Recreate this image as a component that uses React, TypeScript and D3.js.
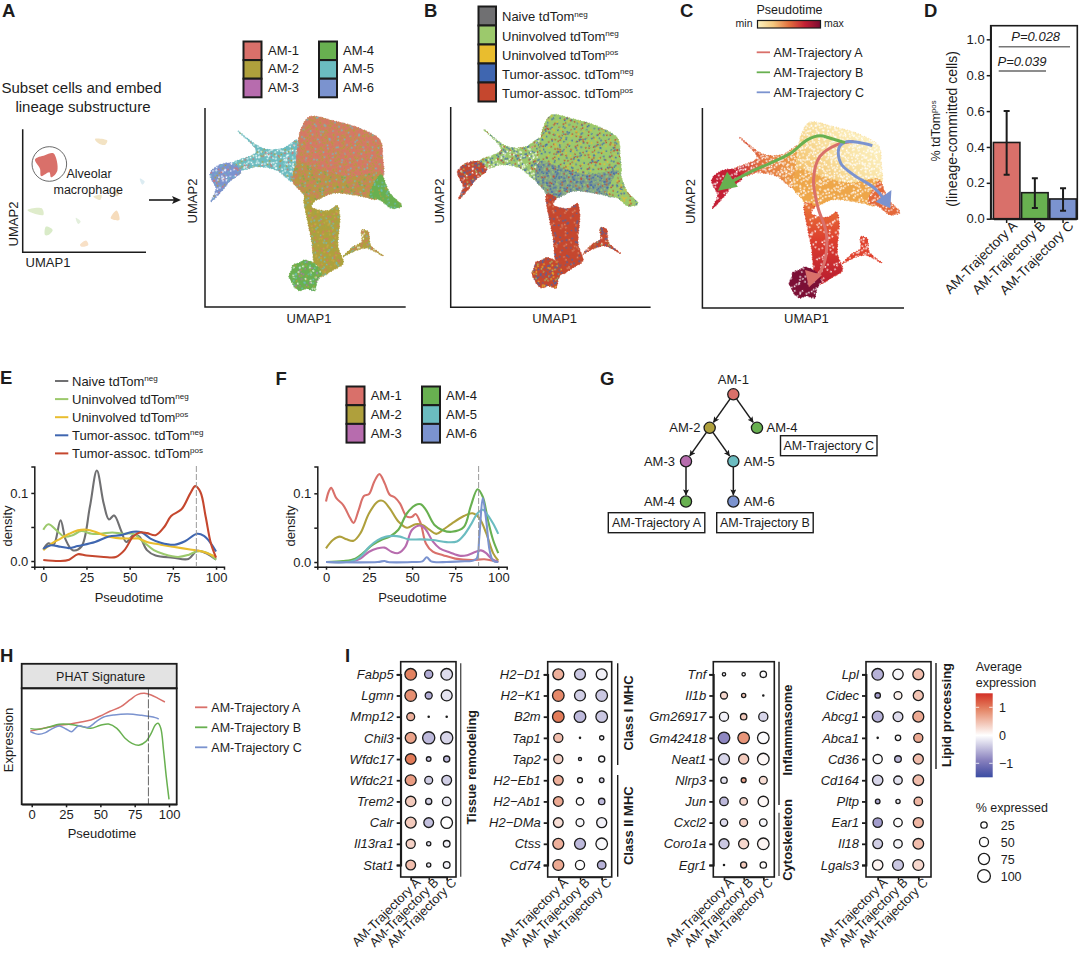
import React, { useEffect, useRef } from 'react';
import * as d3 from 'd3';

type Pt = [number, number];

const FONT = '"Liberation Sans", Arial, sans-serif';
const INK = '#1c1c1c';

// categories
const amNames = ['AM-1', 'AM-2', 'AM-3', 'AM-4', 'AM-5', 'AM-6'];
const amColors = ['#d9706a', '#afa03c', '#b76cae', '#68b050', '#6bbcc0', '#7b93cf'];
const popNames = ['Naive tdTom', 'Uninvolved tdTom', 'Uninvolved tdTom', 'Tumor-assoc. tdTom', 'Tumor-assoc. tdTom'];
const popSups = ['neg', 'neg', 'pos', 'neg', 'pos'];
const popColors = ['#707072', '#9cc96c', '#e9bd2e', '#3f66b0', '#c5472e'];
const trajNames = ['AM-Trajectory A', 'AM-Trajectory B', 'AM-Trajectory C'];
const trajColors = ['#d9706a', '#68b050', '#7b93cf'];

// panel D
const tdTomPct = [0.425, 0.145, 0.11];
const tdTomLow = [0.245, 0.06, 0.045];
const tdTomHigh = [0.6, 0.225, 0.17];

// panel E, [pseudotime, density]
const naiveDensity: Pt[] = [[0, .017], [3, .026], [6, .024], [10, .06], [13, .031], [17, .016], [22, .021], [27, .08], [31, .133], [35, .084], [38, .061], [41, .067], [45, .045], [48, .028], [52, .038], [55.6, .036], [60, .016], [65, .008], [75, .005], [84, .003], [89, .015], [94.6, .011], [100, .002]];
const uninvNegDensity: Pt[] = [[0, .046], [3, .054], [7.7, .045], [12, .036], [17, .038], [22, .044], [28, .04], [33, .04], [40, .042], [46, .04], [52, .04], [58, .028], [64, .016], [70, .01], [78, .006], [84, .009], [89, .014], [95, .012], [100, .002]];
const uninvPosDensity: Pt[] = [[0, .016], [5, .026], [10, .033], [15, .04], [20, .045], [25, .046], [30, .043], [36, .037], [42, .034], [50, .033], [55, .033], [60, .028], [68, .024], [75, .021], [85, .017], [92, .014], [100, .006]];
const tumorNegDensity: Pt[] = [[0, .018], [4, .023], [10, .021], [15, .019], [20, .022], [30, .028], [38, .036], [45, .038], [52, .043], [57, .042], [62, .033], [68, .027], [76, .024], [82, .029], [89, .04], [93, .037], [97, .026], [100, .014]];
const tumorPosDensity: Pt[] = [[0, .0015], [10, 0], [15, .002], [20, .01], [25, .008], [35, .006], [42, .006], [47, .016], [52, .036], [56, .042], [60, .041], [65, .038], [70, .05], [74, .066], [80, .076], [85, .099], [88, .11], [91, .101], [94, .065], [97, .026], [100, .005]];
const popDensities = [naiveDensity, uninvNegDensity, uninvPosDensity, tumorNegDensity, tumorPosDensity];

// panel F, [pseudotime, density]
const am1Density: Pt[] = [[0, .088], [1.5, .102], [3, .108], [6, .093], [10, .083], [14, .064], [16, .057], [19, .076], [22, .096], [25, .099], [28, .117], [31, .128], [34, .115], [37, .098], [40, .094], [43, .085], [47, .066], [50, .066], [52, .07], [55, .056], [58, .027], [62, .015], [68, .01], [75, .005], [85, .003], [92, .004], [100, 0]];
const am2Density: Pt[] = [[0, .02], [4, .032], [8, .037], [12, .033], [16, .031], [20, .042], [25, .071], [30, .088], [33, .089], [37, .078], [42, .059], [47, .05], [52, .055], [56, .054], [60, .047], [64, .041], [68, .047], [73, .056], [80, .067], [85, .071], [89, .064], [93, .042], [97, .013], [100, .002]];
const am3Density: Pt[] = [[0, 0], [15, .001], [20, .005], [25, .015], [30, .02], [34, .021], [38, .015], [42, .013], [46, .022], [50, .047], [55, .053], [58, .047], [62, .03], [66, .02], [72, .014], [78, .009], [82, .01], [87, .015], [90, .017], [93, .013], [96, .005], [100, 0]];
const am4Density: Pt[] = [[0, 0], [10, .0015], [17, .005], [22, .014], [27, .025], [32, .032], [37, .037], [42, .047], [47, .071], [52, .083], [55, .084], [58, .076], [63, .054], [68, .046], [73, .044], [80, .051], [84, .081], [88, .106], [91, .095], [94, .061], [97, .032], [100, .013]];
const am5Density: Pt[] = [[0, 0], [15, .001], [20, .008], [25, .022], [30, .032], [35, .037], [39, .038], [43, .037], [48, .033], [55, .033], [62, .032], [70, .029], [76, .03], [80, .039], [84, .054], [88, .071], [91, .076], [94, .068], [97, .056], [100, .041]];
const am6Density: Pt[] = [[0, 0], [30, 0], [34, .0015], [36, 0], [50, 0], [56, .001], [58.5, .007], [61, .001], [70, 0], [78, .001], [85, .002], [87.5, .005], [89, .037], [91, .093], [93, .061], [95, .017], [97, .002], [100, 0]];
const amDensities = [am1Density, am2Density, am3Density, am4Density, am5Density, am6Density];

// panel H, [pseudotime, expression in arbitrary units]
const phatA: Pt[] = [[-1, 22], [5, 22.5], [12, 23.1], [20, 23.7], [27, 24], [35, 24.6], [43, 25.3], [50, 26.5], [57, 27.9], [65, 29.3], [72, 31.5], [77, 32.9], [82, 33.3], [87, 32.8], [92, 31.8], [97, 30.7]];
const phatB: Pt[] = [[-1, 22.7], [5, 22.5], [12, 23.1], [20, 24], [27, 24], [35, 23.5], [43, 22.8], [50, 23.7], [56, 24.1], [62, 22.8], [68, 19.8], [73, 18.3], [78, 17.7], [83, 18.8], [87, 21.3], [90, 23.8], [92, 24.3], [94, 22.8], [96, 16.3], [98, 8.3], [100, 1.5]];
const phatC: Pt[] = [[-1, 21.8], [5, 21], [10, 21.5], [15, 22.7], [20, 23.5], [25, 22.6], [29, 21.8], [34, 23.5], [41, 23.1], [47, 24.8], [52, 26.1], [60, 26.8], [70, 27.1], [80, 26.7], [90, 26], [92.5, 25.6]];
const phatSeries = [phatA, phatB, phatC];

// panel I, one triple (trajectory A, B, C) per gene
const tissueGenes = ['Fabp5', 'Lgmn', 'Mmp12', 'Chil3', 'Wfdc17', 'Wfdc21', 'Trem2', 'Calr', 'Il13ra1', 'Stat1'];
const tissuePct = [[82, 41, 82], [82, 30, 73], [38, 1, 1], [73, 91, 91], [69, 13, 23], [73, 38, 58], [66, 23, 44], [73, 58, 82], [51, 11, 27], [58, 11, 27]];
const tissueAvg = [[.95, -.6, -.25], [.85, -.6, -.2], [.6, 0, 0], [.7, -.5, -.3], [1, -.4, -.5], [.75, -.35, -.35], [.4, -.3, -.15], [.4, -.45, 0], [.35, -.2, -.1], [.5, -.15, -.1]];
const mhcGenes = ['H2\u2212D1', 'H2\u2212K1', 'B2m', 'Tap1', 'Tap2', 'H2\u2212Eb1', 'H2\u2212Ab1', 'H2\u2212DMa', 'Ctss', 'Cd74'];
const mhcPct = [[73, 73, 73], [82, 73, 82], [82, 82, 82], [51, 1, 11], [51, 6, 23], [58, 15, 13], [58, 33, 25], [58, 38, 62], [73, 73, 82], [73, 51, 44]];
const mhcAvg = [[.6, -.4, -.1], [.9, -.35, -.4], [1, -.5, -.4], [.5, 0, -.1], [.35, -.3, -.05], [.6, 0, -.3], [.65, -.03, -.5], [.25, -.05, -.1], [.6, -.5, -.05], [.65, 0, -.55]];
const inflamGenes = ['Tnf', 'Il1b', 'Gm26917', 'Gm42418', 'Neat1', 'Nlrp3', 'Jun', 'Cxcl2', 'Coro1a', 'Egr1'];
const inflamPct = [[7, 7, 25], [30, 11, 1], [51, 25, 51], [82, 82, 82], [73, 62, 82], [25, 15, 38], [44, 35, 66], [33, 38, 35], [62, 62, 82], [1, 23, 25]];
const inflamAvg = [[-.1, -.05, -.02], [.3, .45, 0], [-.1, .4, -.3], [-.85, .8, -.03], [-.3, .4, .05], [-.2, .7, .25], [-.5, .3, .05], [-.25, .35, -.05], [-.4, .3, .08], [0, .4, .02]];
const lipidGenes = ['Lpl', 'Cidec', 'Abcg1', 'Abca1', 'Cd36', 'Cd164', 'Pltp', 'Ear1', 'Il18', 'Lgals3'];
const lipidPct = [[82, 66, 73], [18, 38, 62], [73, 58, 73], [1, 18, 51], [51, 27, 62], [66, 44, 69], [13, 11, 44], [54, 44, 62], [58, 44, 69], [66, 73, 73]];
const lipidAvg = [[-.55, -.05, .5], [-.7, .1, .45], [-.55, -.25, .65], [0, -.02, .65], [-.02, -.5, .5], [-.3, -.2, .5], [-.6, -.15, .55], [-.7, 0, .55], [-.35, -.08, .5], [.08, -.4, .3]];
const pctLegend = [25, 50, 75, 100];

// panel G tree, col / level are grid units
const treeNodes = [
  { key: 'a1', name: 'AM-1', color: 0, col: 2, level: 0 },
  { key: 'a2', name: 'AM-2', color: 1, col: 1, level: 1 },
  { key: 'a4', name: 'AM-4', color: 3, col: 3, level: 1 },
  { key: 'a3', name: 'AM-3', color: 2, col: 0, level: 2 },
  { key: 'a5', name: 'AM-5', color: 4, col: 2, level: 2 },
  { key: 'b4', name: 'AM-4', color: 3, col: 0, level: 3.2 },
  { key: 'a6', name: 'AM-6', color: 5, col: 2, level: 3.2 },
];
const treeEdges = [['a1', 'a2'], ['a1', 'a4'], ['a2', 'a3'], ['a2', 'a5'], ['a3', 'b4'], ['a5', 'a6']];

// UMAP outlines, arbitrary UMAP units
const umapUpper: Pt[] = [[305, 515], [330, 550], [400, 538], [480, 515], [540, 480], [548, 430], [545, 360], [450, 340], [360, 360], [295, 400], [295, 470]];
const umapMid: Pt[] = [[295, 410], [360, 390], [450, 370], [543, 380], [550, 345], [530, 303], [490, 310], [400, 320], [350, 300], [325, 300], [305, 325], [280, 355]];
const umapTip: Pt[] = [[525, 355], [543, 375], [570, 320], [605, 282], [575, 275], [540, 300], [510, 310]];
const umapLower: Pt[] = [[315, 310], [345, 300], [335, 280], [385, 268], [412, 283], [420, 250], [415, 160], [430, 110], [400, 90], [360, 70], [345, 100], [335, 180], [325, 230]];
const umapBlob: Pt[] = [[280, 105], [300, 112], [315, 120], [350, 105], [365, 80], [352, 55], [345, 28], [320, 34], [300, 28], [285, 38], [278, 50], [268, 72], [275, 88]];
const umapBridge: Pt[] = [[115, 507], [190, 455], [250, 455], [295, 480], [305, 430], [290, 390], [280, 355], [230, 390], [170, 400], [130, 390], [100, 410], [170, 445]];
const umapLeftBlob: Pt[] = [[32, 380], [60, 405], [100, 410], [125, 385], [90, 355], [70, 330], [35, 295], [50, 335], [40, 355]];
const umapBranch: Pt[] = [[430, 130], [460, 160], [485, 175], [485, 210], [505, 205], [512, 165], [550, 132], [500, 155], [460, 145]];

// panel C pseudotime ramp and principal curves, same UMAP units
const pseudoStops = ['#fdf2c0', '#f4c77e', '#e2703e', '#c32034', '#7a0b32'];
const curveA: Pt[] = [[464, 493], [412, 483], [361, 448], [342, 379], [355, 299], [381, 220], [377, 141], [355, 91]];
const curveB: Pt[] = [[438, 490], [393, 503], [361, 510], [323, 498], [272, 458], [220, 433], [143, 399], [66, 359]];
const curveC: Pt[] = [[521, 481], [476, 491], [438, 491], [419, 473], [425, 428], [464, 394], [528, 354], [566, 310]];
const headA: Pt[] = [[328, 60], [316, 111], [368, 96]];
const headB: Pt[] = [[51, 347], [79, 403], [112, 359]];
const headC: Pt[] = [[576, 295], [531, 314], [579, 349]];

// inset of panel A: all cell clusters, 0-100 units
const insetTarget: Pt[] = [[10, 75.6], [18, 79], [24.9, 80.5], [28.1, 66.4], [23, 61], [21.6, 65], [15, 62], [14, 68]];
const insetClusters: { color: string; pts: Pt[] }[] = [
  { color: '#f3e3c4', pts: [[58.6, 92.1], [68.6, 90.8], [66.8, 87.3], [61.4, 88.6]] },
  { color: '#dfeccb', pts: [[3.8, 34.4], [15.4, 35.8], [16.8, 30.4], [8.6, 31.7]] },
  { color: '#d9ebc8', pts: [[18.9, 20.9], [24.3, 18.2], [20.8, 14.1], [18.1, 14.1]] },
  { color: '#f6dcbc', pts: [[76.2, 33.9], [78.4, 26.3], [71.4, 27.6]] },
  { color: '#f8e0c6', pts: [[46.5, 6], [51.4, 9.5], [53.2, 6], [47.8, 4.6]] },
  { color: '#efe7c6', pts: [[57.3, 45.3], [64, 46.6], [62.7, 42.5]] },
  { color: '#f5e0c2', pts: [[73, 49.3], [78.4, 50.7], [76.8, 45.3]] },
  { color: '#dcecf2', pts: [[95, 60], [99, 57.5], [97, 55]] },
  { color: '#e3efdc', pts: [[43, 28], [47, 25], [45, 23]] },
];

// speckle tile standing in for the overplotted single cells
const speckleX = [1.2, 5.8, 9.1, 14.3, 16.8, 3.4, 7.7, 12.2, 15.6, 0.6, 4.9, 10.4, 13.1, 17.3, 2.5, 6.9, 11.2, 15.0, 8.3, 1.7, 5.1, 9.9, 13.9, 16.4, 3.3, 7.2, 11.8, 0.9, 6.2, 14.7, 17.6, 4.2, 10.1, 12.8, 2.1, 8.6];
const speckleY = [0.8, 1.9, 0.4, 1.3, 3.1, 3.6, 4.2, 3.2, 5.4, 6.1, 6.7, 5.9, 7.3, 7.9, 8.8, 8.1, 9.2, 10.1, 11.3, 11.0, 10.9, 12.7, 12.0, 13.2, 13.9, 14.4, 13.6, 15.4, 16.1, 15.7, 16.9, 17.2, 16.8, 15.9, 17.7, 6.0];

const [c1, c2, c3, c4, c5, c6] = amColors;
const [, pGreen, pYellow, pBlue, pRed] = popColors;

type Layer = { pts: Pt[]; base: string; edge?: string; dots: string[] };

const layersA: Layer[] = [
  { pts: umapBridge, base: c5, dots: [c5, '#fff', c1, '#fff', c2, '#fff', c5] },
  { pts: umapLeftBlob, base: c6, dots: [c6, c1, '#fff', c6, c2, '#fff', c5] },
  { pts: umapUpper, base: '#d27d62', dots: [c2, c1, c2, c5, c2, c1, c1] },
  { pts: umapMid, base: '#bb9448', dots: [c1, c2, c1, c5, c1, c2, c4] },
  { pts: umapTip, base: c4, dots: [c4, c2, c4, c5, c4] },
  { pts: umapLower, base: c2, dots: [c2, '#c7a843', c5, c2, c1, '#9aa846'] },
  { pts: umapBlob, base: c4, dots: [c4, c2, c4, c5, c3, c4, '#fff'] },
  { pts: umapBranch, base: c2, dots: [c1, c2, c5, c1, '#fff'] },
];
const layersB: Layer[] = [
  { pts: umapBridge, base: pGreen, dots: [pBlue, '#fff', pGreen, pRed, pBlue, '#fff'] },
  { pts: umapLeftBlob, base: pRed, dots: [pBlue, pRed, '#fff', pGreen, pBlue, pRed] },
  { pts: umapUpper, base: pGreen, dots: [pRed, pBlue, pGreen, pGreen, pRed, pYellow, pGreen, pBlue, pGreen] },
  { pts: umapMid, base: '#7f9e8b', dots: [pGreen, pBlue, pGreen, pRed, pBlue, pGreen, pBlue] },
  { pts: umapTip, base: pGreen, dots: [pYellow, pGreen, pRed, pGreen, pBlue] },
  { pts: umapLower, base: pRed, dots: [pRed, pRed, '#d88a6a', pRed, pBlue, pRed] },
  { pts: umapBlob, base: pRed, dots: [pBlue, pRed, pGreen, pRed, pBlue, pYellow] },
  { pts: umapBranch, base: pRed, dots: [pRed, pGreen, pBlue, pRed, '#fff'] },
];
const layersC: Layer[] = [
  { pts: umapBridge, base: 'url(#ptBridge)', edge: '#e2703e', dots: ['#fff', 'none', '#fff', '#fff'] },
  { pts: umapLeftBlob, base: '#c41f35', dots: ['#fff', 'none', 'none', 'none'] },
  { pts: umapUpper, base: 'url(#ptUpper)', edge: '#f9e0a4', dots: ['#fff', 'none', '#fff'] },
  { pts: umapMid, base: '#eea649', dots: ['#fff', 'none', 'none', '#fff'] },
  { pts: umapTip, base: '#e4683a', dots: ['#fff', 'none'] },
  { pts: umapLower, base: 'url(#ptLower)', edge: '#dd3f2e', dots: ['#fff', 'none', 'none', 'none'] },
  { pts: umapBlob, base: '#7c0f35', dots: ['#fff', 'none', 'none', 'none'] },
  { pts: umapBranch, base: '#e0432f', dots: ['#fff', 'none'] },
];

const umapDomainX: Pt = [30, 607];
const umapDomainY: Pt = [25, 552];
const smooth = d3.curveCatmullRom.alpha(0.5);

const Label = ({ x, y, size = 13, anchor = 'start', rotate, weight, italic, sup, children }: any) => (
  <text
    transform={rotate ? `translate(${x},${y}) rotate(${rotate})` : undefined}
    x={rotate ? undefined : x}
    y={rotate ? undefined : y}
    fontSize={size}
    textAnchor={anchor}
    fontWeight={weight}
    fontStyle={italic ? 'italic' : undefined}
    fill={INK}
  >
    {children}
    {sup && <tspan dy={-size * 0.36} fontSize={size * 0.62}>{sup}</tspan>}
  </text>
);

const Letter = ({ x, y, children }: any) => <Label x={x} y={y} size={18.5} weight="bold">{children}</Label>;

// d3 axis rendered into a <g>
const Axis = ({ axis, transform, size = 13, italic, rotated, width = 1.5 }: any) => {
  const ref = useRef<SVGGElement>(null);
  useEffect(() => {
    const g = d3.select(ref.current as SVGGElement);
    g.call(axis);
    g.attr('font-family', FONT);
    g.select('.domain').attr('stroke', INK).attr('stroke-width', width);
    g.selectAll('.tick line').attr('stroke', INK).attr('stroke-width', width);
    const t = g.selectAll('.tick text').attr('fill', INK).attr('font-size', size);
    if (italic) t.attr('font-style', 'italic');
    if (rotated) t.attr('transform', 'rotate(-45)').attr('text-anchor', 'end').attr('dx', '0.2em').attr('dy', '0.55em');
  }, []);
  return <g ref={ref} transform={transform} />;
};

const SpecklePattern = ({ id, dots, shift, r, transform }: any) => (
  <pattern id={id} width={18} height={18} patternUnits="userSpaceOnUse" patternTransform={transform}>
    {speckleX.map((sx, k) => {
      const c = dots[(k + shift) % dots.length];
      return c === 'none' ? null : <circle key={k} cx={sx} cy={speckleY[k]} r={r} fill={c} />;
    })}
  </pattern>
);

const UmapPanel = ({ id, layers, rangeX, rangeY, axisX, axisY, children }: any) => {
  const x = d3.scaleLinear().domain(umapDomainX).range(rangeX);
  const y = d3.scaleLinear().domain(umapDomainY).range(rangeY);
  const outline = d3.line<Pt>().x(d => x(d[0])).y(d => y(d[1])).curve(d3.curveCatmullRomClosed.alpha(0.5));
  const speck = layers as Layer[];
  return (
    <g>
      <defs>
        {speck.map((l, i) => (
          <g key={i}>
            <SpecklePattern id={`${id}-${i}`} dots={l.dots} shift={0} r={0.85} transform="rotate(17)" />
            <SpecklePattern id={`${id}-${i}b`} dots={l.dots} shift={3} r={0.62} transform="rotate(-31) scale(1.37)" />
          </g>
        ))}
      </defs>
      {speck.map((l, i) => {
        const d = outline(l.pts)!;
        return (
          <g key={i}>
            <path d={d} fill={l.base} stroke={l.edge || l.base} strokeWidth={1.4} strokeDasharray="0 1.7 0 3.1 0 2.3 0 4.3" strokeLinecap="round" />
            <path d={d} fill={`url(#${id}-${i})`} />
            <path d={d} fill={`url(#${id}-${i}b)`} />
          </g>
        );
      })}
      <path d={`M${axisX[0]},${axisY[0]}V${axisY[1]}H${axisX[1]}`} fill="none" stroke={INK} strokeWidth={1.5} />
      {children && children(x, y)}
    </g>
  );
};

const SwatchColumn = ({ x, y, w, h, colors }: any) => (
  <g>
    {colors.map((c: string, i: number) => (
      <rect key={i} x={x} y={y + i * h} width={w} height={h} fill={c} stroke={INK} strokeWidth={2} />
    ))}
  </g>
);

const DensityPanel = ({ series, colors, rangeX, domainX, domainY, xLabelAt, dashT }: any) => {
  const x = d3.scaleLinear().domain(domainX).range(rangeX);
  const y = d3.scaleLinear().domain(domainY).range([566.7, 466.4]);
  const line = d3.line<Pt>().x(d => x(d[0])).y(d => y(d[1])).curve(smooth);
  return (
    <g>
      {series.map((s: Pt[], i: number) => (
        <path key={i} d={line(s)!} fill="none" stroke={colors[i]} strokeWidth={2.1} />
      ))}
      <line x1={x(dashT)} x2={x(dashT)} y1={466} y2={566} stroke="#9a9a9a" strokeWidth={1} strokeDasharray="6 2" />
      <Axis
        transform="translate(0,566.7)"
        axis={d3.axisBottom(x).tickValues([0, 25, 50, 75, 100]).tickSizeOuter(0).tickSize(3).tickPadding(3)}
      />
      <Axis
        transform={`translate(${rangeX[0]},0)`}
        axis={d3.axisLeft(y).tickValues([0, 0.05, 0.1]).tickSizeOuter(0).tickSize(3).tickPadding(3)
          .tickFormat((d: any) => (d === 0.05 ? '' : d3.format('.1f')(d)))}
      />
      <Label x={rangeX[0] - 22.5} y={526} size={13} anchor="middle" rotate={-90}>density</Label>
      <Label x={xLabelAt} y={602} size={13} anchor="middle">Pseudotime</Label>
    </g>
  );
};

const avgColor = d3.scaleLinear<string>()
  .domain([-1.5, -1, 0, 1, 1.5])
  .range(['#3b4da3', '#7a72b6', '#ffffff', '#e27b58', '#d32f27']);
const pctRadius = d3.scaleSqrt().domain([0, 100]).range([0, 6.4]);

const DotPanel = ({ genes, pct, avg, left, right, col0, col2 }: any) => {
  const x = d3.scalePoint<string>().domain(trajNames).range([col0, col2]);
  const y = d3.scalePoint<string>().domain(genes).range([674.3, 865]);
  return (
    <g>
      <rect x={left} y={661.7} width={right - left} height={215.3} fill="none" stroke={INK} strokeWidth={1.6} />
      {genes.map((g: string, i: number) => trajNames.map((t, j) => (
        <circle key={t} cx={x(t)} cy={y(g)} r={pctRadius(pct[i][j])} fill={avgColor(avg[i][j])} stroke={INK} strokeWidth={1.3} />
      )))}
      <Axis transform={`translate(${left},0)`} italic size={13} width={1.8}
        axis={d3.axisLeft(y).tickSize(4).tickPadding(3)} />
      <Axis transform="translate(0,877)" rotated size={12.7} width={1.4}
        axis={d3.axisBottom(x).tickSize(3.5).tickPadding(1)} />
    </g>
  );
};

const SideBar = ({ x, y0, y1, grey }: any) => (
  <line x1={x} x2={x} y1={y0} y2={y1} stroke={grey ? '#555' : INK} strokeWidth={1.4} />
);

const App = () => {
  // panel D scales
  const barX = d3.scaleBand<string>().domain(trajNames).range([993.4, 1076.3]).paddingInner(0.06);
  const barY = d3.scaleLinear().domain([0, 1.076]).range([218.7, 25.7]);

  // panel G scales
  const treeX = d3.scaleLinear().domain([0, 3]).range([686, 757]);
  const treeY = d3.scaleLinear().domain([0, 1]).range([394.3, 427.8]);
  const nodeR = 5.6;

  // panel H scales
  const phatX = d3.scaleLinear().domain([-7.3, 105.6]).range([21.7, 176.7]);
  const phatY = d3.scaleLinear().domain([0, 34.8]).range([804.3, 688.3]);
  const phatLine = d3.line<Pt>().x(d => phatX(d[0])).y(d => phatY(d[1])).curve(smooth);

  // inset scales
  const insetX = d3.scaleLinear().domain([0, 100]).range([22.7, 146]);
  const insetY = d3.scaleLinear().domain([0, 100]).range([252.3, 129.3]);
  const insetPath = d3.line<Pt>().x(d => insetX(d[0])).y(d => insetY(d[1])).curve(d3.curveCatmullRomClosed.alpha(0.5));

  // colour bar scale
  const barScale = d3.scaleLinear().domain([-1.5, 1.5]).range([777.3, 693.3]);
  const avgStops = d3.range(0, 1.001, 0.1);

  return (
    <svg width={1080} height={953} style={{ position: 'absolute', left: 0, top: 0, background: '#fff' }} fontFamily={FONT}>
      <defs>
        <marker id="treeHead" markerWidth={7} markerHeight={7} refX={5.5} refY={3} orient="auto" markerUnits="userSpaceOnUse">
          <path d="M0,0L6,3L0,6L1.2,3Z" fill={INK} />
        </marker>
        <linearGradient id="ptBar">
          {pseudoStops.map((c, i) => <stop key={c} offset={i / (pseudoStops.length - 1)} stopColor={c} />)}
        </linearGradient>
        <linearGradient id="ptUpper" x1="1" y1="0.2" x2="0" y2="1">
          <stop offset="0" stopColor="#fdf5c8" />
          <stop offset="0.5" stopColor="#f8dc98" />
          <stop offset="1" stopColor="#f0b050" />
        </linearGradient>
        <linearGradient id="ptBridge" x1="1" y1="0" x2="0" y2="0">
          <stop offset="0" stopColor="#eea649" />
          <stop offset="0.6" stopColor="#e2703e" />
          <stop offset="1" stopColor="#c41f35" />
        </linearGradient>
        <linearGradient id="ptLower" x1="0" y1="0" x2="0" y2="1">
          <stop offset="0" stopColor="#ea7a3a" />
          <stop offset="0.45" stopColor="#dd3f2e" />
          <stop offset="1" stopColor="#b81b30" />
        </linearGradient>
        <linearGradient id="avgBar" x1="0" y1="1" x2="0" y2="0">
          {avgStops.map(t => <stop key={t} offset={t} stopColor={avgColor(-1.5 + 3 * t)} />)}
        </linearGradient>
      </defs>

      {/* A */}
      <Letter x={2} y={16.8}>A</Letter>
      <Label x={81.5} y={93} size={15} anchor="middle">Subset cells and embed</Label>
      <Label x={83} y={112} size={15} anchor="middle">lineage substructure</Label>
      {insetClusters.map((c, i) => <path key={i} d={insetPath(c.pts)!} fill={c.color} />)}
      <path d={insetPath(insetTarget)!} fill={c1} />
      <circle cx={insetX(21.6)} cy={insetY(71.8)} r={17.3} fill="none" stroke="#444" strokeWidth={0.8} />
      <path d="M22.7,129.3V252.3H146" fill="none" stroke={INK} strokeWidth={1.5} />
      <Label x={66.5} y={178} size={12.5}>Alveolar</Label>
      <Label x={53.5} y={194} size={12.5}>macrophage</Label>
      <Label x={48} y={266.5} size={13} anchor="middle">UMAP1</Label>
      <Label x={17.5} y={224} size={13} anchor="middle" rotate={-90}>UMAP2</Label>
      <line x1={149} x2={176} y1={200} y2={200} stroke={INK} strokeWidth={1.6} />
      <path d="M181,200L172,196L174,200L172,204Z" fill={INK} />
      <SwatchColumn x={243.5} y={41.5} w={18} h={18.6} colors={amColors.slice(0, 3)} />
      <SwatchColumn x={319} y={41.5} w={18} h={18.6} colors={amColors.slice(3)} />
      {amNames.slice(0, 3).map((n, i) => <Label key={i} x={268} y={54.5 + i * 18.8} size={13}>{n}</Label>)}
      {amNames.slice(3).map((n, i) => <Label key={i} x={343} y={54.5 + i * 18.8} size={13}>{n}</Label>)}
      <UmapPanel id="a" layers={layersA} rangeX={[209.3, 402.4]} rangeY={[291.7, 116]} axisX={[205, 405.7]} axisY={[108, 307]} />
      <Label x={309} y={322.5} size={13} anchor="middle">UMAP1</Label>
      <Label x={197} y={201} size={13} anchor="middle" rotate={-90}>UMAP2</Label>

      {/* B */}
      <Letter x={424} y={16.8}>B</Letter>
      <SwatchColumn x={478.5} y={6.5} w={17.5} h={19} colors={popColors} />
      {popNames.map((n, i) => <Label key={i} x={502} y={21.4 + i * 19.1} size={13} sup={popSups[i]}>{n}</Label>)}
      <UmapPanel id="b" layers={layersB} rangeX={[456.9, 638.6]} rangeY={[289, 114.4]} axisX={[450.7, 650.6]} axisY={[107, 307.3]} />
      <Label x={554.7} y={322.5} size={13} anchor="middle">UMAP1</Label>
      <Label x={443.5} y={201} size={13} anchor="middle" rotate={-90}>UMAP2</Label>

      {/* C */}
      <Letter x={680} y={16.8}>C</Letter>
      <Label x={789.5} y={13.5} size={12.5} anchor="middle">Pseudotime</Label>
      <rect x={757.5} y={20.5} width={63} height={7.5} fill="url(#ptBar)" stroke={INK} strokeWidth={1.2} />
      <Label x={752.5} y={27} size={10.5} anchor="end">min</Label>
      <Label x={824} y={27} size={10.5}>max</Label>
      {trajNames.map((n, i) => (
        <g key={n}>
          <line x1={756.7} x2={770} y1={52.3 + i * 20} y2={52.3 + i * 20} stroke={trajColors[i]} strokeWidth={1.8} />
          <Label x={773.5} y={56.8 + i * 20} size={12.5}>{n}</Label>
        </g>
      ))}
      <UmapPanel id="c" layers={layersC} rangeX={[711, 900.6]} rangeY={[299, 121.7]} axisX={[702.4, 904]} axisY={[108, 308]}>
        {(x: any, y: any) => {
          const line = d3.line<Pt>().x(d => x(d[0])).y(d => y(d[1])).curve(smooth);
          const head = d3.line<Pt>().x(d => x(d[0])).y(d => y(d[1])).curve(d3.curveLinearClosed);
          return (
            <g>
              {[curveA, curveC, curveB].map((c, i) => (
                <path key={i} d={line(c)!} fill="none" stroke={[trajColors[0], trajColors[2], trajColors[1]][i]} strokeWidth={3} />
              ))}
              <path d={head(headA)!} fill={trajColors[0]} />
              <path d={head(headB)!} fill={trajColors[1]} />
              <path d={head(headC)!} fill={trajColors[2]} />
            </g>
          );
        }}
      </UmapPanel>
      <Label x={806.4} y={322.5} size={13} anchor="middle">UMAP1</Label>
      <Label x={695} y={201.5} size={13} anchor="middle" rotate={-90}>UMAP2</Label>

      {/* D */}
      <Letter x={924} y={16.8}>D</Letter>
      {trajNames.map((n, i) => (
        <g key={n}>
          <rect x={barX(n)} y={barY(tdTomPct[i])} width={barX.bandwidth()} height={barY(0) - barY(tdTomPct[i])} fill={trajColors[i]} stroke={INK} strokeWidth={1.6} />
          <path
            d={`M${barX(n)! + barX.bandwidth() / 2},${barY(tdTomLow[i])}V${barY(tdTomHigh[i])}M${barX(n)! + barX.bandwidth() / 2 - 3},${barY(tdTomLow[i])}h6M${barX(n)! + barX.bandwidth() / 2 - 3},${barY(tdTomHigh[i])}h6`}
            fill="none" stroke={INK} strokeWidth={2}
          />
        </g>
      ))}
      <rect x={990.7} y={25.7} width={86.6} height={193.3} fill="none" stroke={INK} strokeWidth={1.6} />
      <Axis transform="translate(990.7,0)" size={13} axis={d3.axisLeft(barY).tickValues([0, .2, .4, .6, .8, 1]).tickFormat(d3.format('.1f') as any).tickSize(4).tickPadding(2).tickSizeOuter(0)} />
      <Axis transform="translate(0,219)" size={13.5} rotated axis={d3.axisBottom(barX).tickSize(4).tickPadding(2).tickSizeOuter(0)} />
      <Label x={940} y={131} size={12.5} anchor="middle" rotate={-90} sup="pos">% tdTom</Label>
      <Label x={956.5} y={129} size={14} anchor="middle" rotate={-90}>(lineage-committed cells)</Label>
      <line x1={998.7} x2={1070} y1={46.7} y2={46.7} stroke="#777" strokeWidth={1.4} />
      <line x1={998.7} x2={1046} y1={71} y2={71} stroke={INK} strokeWidth={1.2} />
      <Label x={1035.7} y={41} size={13} anchor="middle" italic>P=0.028</Label>
      <Label x={1022} y={66} size={13} anchor="middle" italic>P=0.039</Label>

      {/* E */}
      <Letter x={0} y={384}>E</Letter>
      {popNames.map((n, i) => (
        <g key={i}>
          <line x1={55} x2={68.3} y1={381 + i * 18.1} y2={381 + i * 18.1} stroke={popColors[i]} strokeWidth={2} />
          <Label x={72} y={385.5 + i * 18.1} size={13} sup={popSups[i]}>{n}</Label>
        </g>
      ))}
      <DensityPanel series={popDensities} colors={popColors} rangeX={[34.3, 224]} domainX={[-5.2, 104.6]} domainY={[-0.00834, 0.139]} xLabelAt={129} dashT={88.6} />

      {/* F */}
      <Letter x={275.5} y={384.5}>F</Letter>
      <SwatchColumn x={346.5} y={386.5} w={18} h={18.7} colors={amColors.slice(0, 3)} />
      <SwatchColumn x={422} y={386.5} w={18} h={18.7} colors={amColors.slice(3)} />
      {amNames.slice(0, 3).map((n, i) => <Label key={i} x={370.7} y={400 + i * 18.8} size={13}>{n}</Label>)}
      {amNames.slice(3).map((n, i) => <Label key={i} x={446} y={400 + i * 18.8} size={13}>{n}</Label>)}
      <DensityPanel series={amDensities} colors={amColors} rangeX={[317.3, 506.7]} domainX={[-5.05, 104.9]} domainY={[-0.0068, 0.1392]} xLabelAt={412.5} dashT={88.6} />

      {/* G */}
      <Letter x={600} y={385}>G</Letter>
      {treeEdges.map(([a, b]) => {
        const na = treeNodes.find(n => n.key === a)!;
        const nb = treeNodes.find(n => n.key === b)!;
        const x0 = treeX(na.col), y0 = treeY(na.level), x1 = treeX(nb.col), y1 = treeY(nb.level);
        const len = Math.hypot(x1 - x0, y1 - y0);
        const ux = (x1 - x0) / len, uy = (y1 - y0) / len;
        return (
          <line key={a + b} x1={x0 + ux * nodeR} y1={y0 + uy * nodeR} x2={x1 - ux * (nodeR + 1)} y2={y1 - uy * (nodeR + 1)}
            stroke={INK} strokeWidth={1.5} markerEnd="url(#treeHead)" />
        );
      })}
      {treeNodes.map(n => {
        const cx = treeX(n.col), cy = treeY(n.level);
        const top = n.level === 0;
        const onRight = n.col >= 2;
        return (
          <g key={n.key}>
            <circle cx={cx} cy={cy} r={nodeR} fill={amColors[n.color]} stroke={INK} strokeWidth={1.3} />
            <Label
              x={top ? cx : onRight ? cx + (n.col === 3 ? 9.5 : 10.3) : cx - (n.col === 1 ? 9.3 : 11)}
              y={top ? cy - 10 : cy + 4.6}
              size={13}
              anchor={top ? 'middle' : onRight ? 'start' : 'end'}
            >{n.name}</Label>
          </g>
        );
      })}
      {[[608.3, 512.7, 0], [716.7, 512.7, 1], [780.5, 435.7, 2]].map(([x, y, i]) => (
        <g key={i}>
          <rect x={x} y={y} width={96.5} height={20} fill="#fff" stroke={INK} strokeWidth={1.4} />
          <Label x={x + 48.2} y={y + 14.5} size={12.5} anchor="middle">{trajNames[i]}</Label>
        </g>
      ))}

      {/* H */}
      <Letter x={0} y={662}>H</Letter>
      <rect x={21.7} y={663.8} width={155} height={24.5} fill="#e3e3e3" stroke={INK} strokeWidth={1.8} />
      <Label x={100.7} y={680.5} size={12.5} anchor="middle">PHAT Signature</Label>
      {phatSeries.map((s, i) => <path key={i} d={phatLine(s)!} fill="none" stroke={trajColors[i]} strokeWidth={1.5} />)}
      <line x1={phatX(85)} x2={phatX(85)} y1={688.3} y2={804.3} stroke="#555" strokeWidth={0.9} strokeDasharray="9 2" />
      <rect x={21.7} y={688.3} width={155} height={116} fill="none" stroke={INK} strokeWidth={1.8} />
      <Axis transform="translate(0,804.3)" axis={d3.axisBottom(phatX).tickValues([0, 25, 50, 75, 100]).tickSize(3).tickPadding(2).tickSizeOuter(0)} />
      <Label x={102} y={838} size={13} anchor="middle">Pseudotime</Label>
      <Label x={12.5} y={740} size={13} anchor="middle" rotate={-90}>Expression</Label>
      {trajNames.map((n, i) => (
        <g key={n}>
          <line x1={195} x2={207.3} y1={707.3 + i * 20} y2={707.3 + i * 20} stroke={trajColors[i]} strokeWidth={1.8} />
          <Label x={211.3} y={711.8 + i * 20} size={12.5}>{n}</Label>
        </g>
      ))}

      {/* I */}
      <Letter x={345} y={662}>I</Letter>
      <DotPanel genes={tissueGenes} pct={tissuePct} avg={tissueAvg} left={400.7} right={456} col0={410.7} col2={446.7} />
      <DotPanel genes={mhcGenes} pct={mhcPct} avg={mhcAvg} left={547.7} right={611.7} col0={558.3} col2={601.7} />
      <DotPanel genes={inflamGenes} pct={inflamPct} avg={inflamAvg} left={713.3} right={774.3} col0={724} col2={763.3} />
      <DotPanel genes={lipidGenes} pct={lipidPct} avg={lipidAvg} left={866} right={931} col0={877.7} col2={918.3} />
      <SideBar x={460.7} y0={663.3} y1={876.7} grey />
      <Label x={476} y={767.3} size={13} weight="bold" anchor="middle" rotate={-90}>Tissue remodeling</Label>
      <SideBar x={617.7} y0={663.3} y1={765} />
      <SideBar x={617.7} y0={775} y1={876.7} />
      <Label x={632.7} y={713} size={13} weight="bold" anchor="middle" rotate={-90}>Class I MHC</Label>
      <Label x={632.7} y={825.7} size={13} weight="bold" anchor="middle" rotate={-90}>Class II MHC</Label>
      <SideBar x={779} y0={661.7} y1={805} />
      <SideBar x={779} y0={812.7} y1={876} grey />
      <Label x={792.3} y={730} size={13} weight="bold" anchor="middle" rotate={-90}>Inflammasome</Label>
      <Label x={792.3} y={840} size={13} weight="bold" anchor="middle" rotate={-90}>Cytoskeleton</Label>
      <SideBar x={936} y0={663} y1={769} />
      <Label x={950.7} y={715} size={13} weight="bold" anchor="middle" rotate={-90}>Lipid processing</Label>

      {/* legends of I */}
      <Label x={975.7} y={670.7} size={12.5}>Average</Label>
      <Label x={975.7} y={686.7} size={12.5}>expression</Label>
      <rect x={975.7} y={693.3} width={17} height={84} fill="url(#avgBar)" />
      {[1, 0, -1].map(v => (
        <g key={v}>
          <path d={`M975.7,${barScale(v)}h3.5M992.7,${barScale(v)}h-3.5`} stroke="#fff" strokeWidth={0.8} />
          <Label x={999} y={barScale(v) + 4.5} size={12.5}>{v === -1 ? '\u22121' : v}</Label>
        </g>
      ))}
      <Label x={975.7} y={811.7} size={12.5}>% expressed</Label>
      {pctLegend.map((p, i) => (
        <g key={p}>
          <circle cx={984} cy={825 + i * 17} r={pctRadius(p)} fill="#fff" stroke={INK} strokeWidth={1.3} />
          <Label x={1000.7} y={829.5 + i * 17} size={12.5}>{p}</Label>
        </g>
      ))}
    </svg>
  );
};

export default App;
